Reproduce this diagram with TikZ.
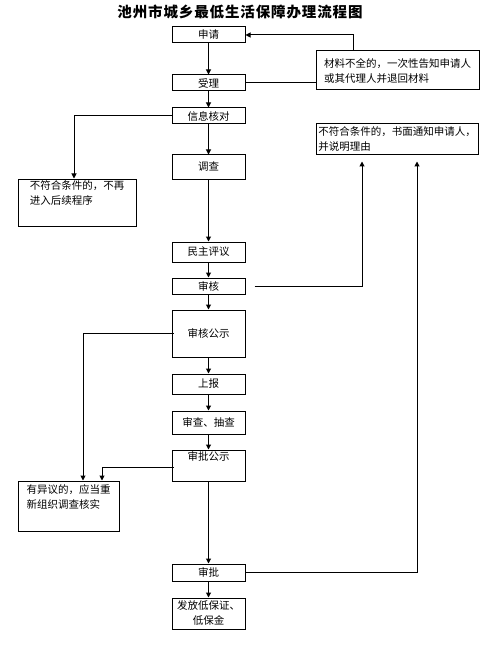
\documentclass[tikz,border=0pt]{standalone}
\usepackage{fontspec}
\setmainfont{Noto Sans CJK SC}
\usetikzlibrary{arrows.meta}
\tikzset{
	box/.style={draw,line width=1pt,minimum width=73pt,inner sep=1pt,align=center,font=\fontsize{10.5}{15}\selectfont},
	note/.style={box,align=left},
	ln/.style={line width=1pt},
	arr/.style={line width=1pt,-{Triangle[length=5pt,width=5pt]}}
}
\begin{document}
\begin{tikzpicture}[x=1pt,y=-1pt]
	\useasboundingbox (0,0) rectangle (493,647);
	\node[font=\fontsize{14.5}{18}\selectfont\bfseries\addfontfeature{LetterSpace=6}] (title) at (240,12) {池州市城乡最低生活保障办理流程图};
	\node[box,minimum height=16pt] (shenqing) at (208.5,35) {申请};
	\node[box,minimum height=16pt] (shouli) at (208.5,83) {受理};
	\node[box,minimum height=16pt] (xinxi) at (208.5,116) {信息核对};
	\node[box,minimum height=24pt] (diaocha) at (208.5,167) {调查};
	\node[box,minimum height=20pt] (minzhu) at (208.5,252) {民主评议};
	\node[box,minimum height=16pt] (shenhe) at (208.5,286) {审核};
	\node[box,minimum height=47pt] (shgs) at (208.5,333.5) {审核公示};
	\node[box,minimum height=20pt] (shangbao) at (208.5,384) {上报};
	\node[box,minimum height=23pt] (choucha) at (208.5,422.5) {审查、抽查};
	\node[box,minimum height=31pt] (spgs) at (208.5,465.5) {审批公示\\\strut};
	\node[box,minimum height=17pt] (shenpi) at (208.5,572.5) {审批};
	\node[box,minimum height=31pt] (fafang) at (208.5,613.5) {发放低保证、\\低保金};
	% side boxes
	\node[note,minimum width=163pt,minimum height=39pt] (cailiao) at (397.5,70.5) {材料不全的，一次性告知申请人\\或其代理人并退回材料};
	\node[note,minimum width=162pt,minimum height=31pt] (tongzhi) at (397,139.5) {不符合条件的，书面通知申请人，\\并说明理由};
	\node[note,minimum width=118pt,minimum height=47pt] (buzai) at (77,202.5) {不符合条件的，不再\\进入后续程序\\\strut};
	\node[note,minimum width=101pt,minimum height=50pt] (yiyi) at (68.5,506) {有异议的，应当重\\新组织调查核实\\\strut};
	% main line
	\draw[arr] (shenqing) -- (shouli);
	\draw[arr] (shouli) -- (xinxi);
	\draw[arr] (xinxi) -- (diaocha);
	\draw[arr] (diaocha) -- (minzhu);
	\draw[arr] (minzhu) -- (shenhe);
	\draw[arr] (shenhe) -- (shgs);
	\draw[arr] (shgs) -- (shangbao);
	\draw[arr] (shangbao) -- (choucha);
	\draw[arr] (choucha) -- (spgs);
	\draw[arr] (spgs) -- (shenpi);
	\draw[arr] (shenpi) -- (fafang);
	% side lines
	\draw[ln] (shouli.east) -- (shouli.east -| cailiao.west);
	\draw[arr] ([xshift=-44.5pt]cailiao.north) |- (shenqing.east);
	\draw[arr] (xinxi.west) -| ([xshift=-3pt]buzai.north);
	\draw[arr,shorten >=6pt] ([xshift=9pt]shenhe.east) -| ([xshift=-35pt]tongzhi.south);
	\draw[arr,shorten >=6pt] (shenpi.east) -| ([xshift=20pt]tongzhi.south);
	\draw[arr] ([xshift=2pt]shgs.west) -| ([xshift=14.5pt]yiyi.north);
	\draw[arr] ([shift={(2pt,-1.5pt)}]spgs.west) -| ([xshift=33.5pt]yiyi.north);
\end{tikzpicture}
\end{document}
